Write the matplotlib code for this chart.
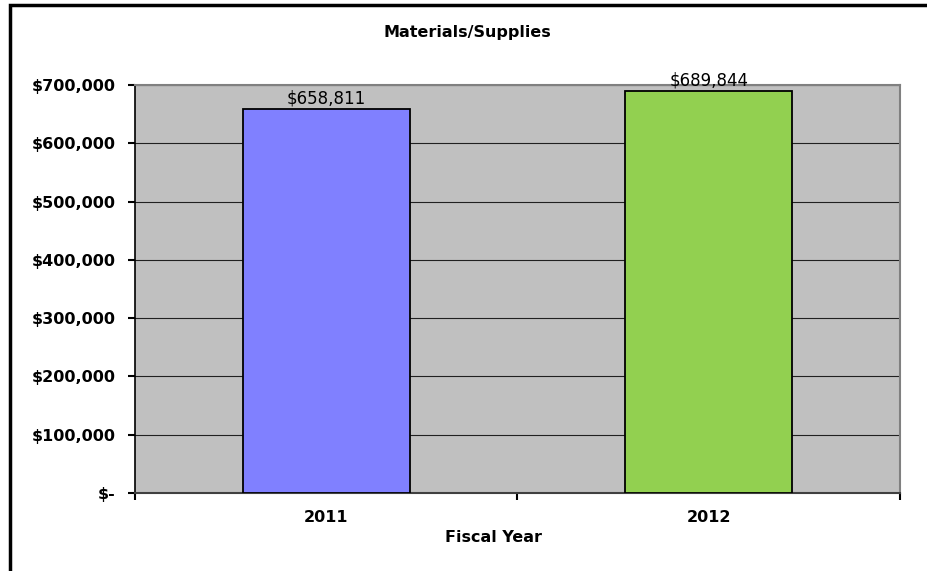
import numpy as np
import matplotlib
matplotlib.use("Agg")
import matplotlib.pyplot as plt
from matplotlib.patches import Rectangle
from matplotlib.ticker import FuncFormatter

years = ["2011", "2012"]
amounts = [658811, 689844]
bar_colors = ["#8080FF", "#92D050"]
y_ticks = [0, 100000, 200000, 300000, 400000, 500000, 600000, 700000]

plt.rcParams["font.family"] = ["DejaVu Sans"]

fig = plt.figure(figsize=(9.28, 5.71), dpi=100)
fig.patch.set_facecolor("white")

# outer frame around the whole chart
fig.add_artist(Rectangle((10 / 928, -0.01), 1.0, 1 - 5 / 571 + 0.01,
                         transform=fig.transFigure, fill=False,
                         edgecolor="black", linewidth=2.5))

ax = fig.add_axes([135 / 928, 1 - 493 / 571, (900 - 135) / 928, (493 - 85) / 571])
ax.set_facecolor("#C0C0C0")

x = np.arange(len(years))
ax.bar(x, amounts, width=0.437, color=bar_colors, edgecolor="black",
       linewidth=1.3, zorder=3)

for xi, val in zip(x, amounts):
    ax.text(xi, val + 2500, f"${val:,.0f}", ha="center", va="bottom",
            fontsize=12, zorder=4)

ax.set_xlim(-0.5, len(years) - 0.5)
ax.set_ylim(0, 700000)
ax.set_yticks(y_ticks)
ax.yaxis.set_major_formatter(FuncFormatter(lambda v, _: "$-" if v == 0 else f"${v:,.0f}"))
ax.grid(axis="y", color="#202020", linewidth=0.8, zorder=1)
ax.set_axisbelow(True)

# category labels sit between the boundary ticks
ax.set_xticks([-0.5, 0.5, 1.5])
ax.set_xticklabels([])
ax.set_xticks(x, minor=True)
ax.set_xticklabels(years, minor=True, fontsize=11.5, fontweight="bold")
ax.tick_params(axis="x", which="minor", length=0, pad=12)
ax.tick_params(axis="x", which="major", length=5, width=1.5, direction="out")
ax.tick_params(axis="y", length=5, width=1.5, direction="out", labelsize=11.5, pad=9)
for lbl in ax.get_yticklabels():
    lbl.set_fontweight("bold")

ax.spines["left"].set_color("black")
ax.spines["left"].set_linewidth(1.2)
ax.spines["bottom"].set_color("#404040")
ax.spines["bottom"].set_linewidth(1.5)
ax.spines["top"].set_color("#808080")
ax.spines["right"].set_color("#808080")
ax.spines["top"].set_linewidth(1.5)
ax.spines["right"].set_linewidth(1.5)

fig.text(467 / 928, 1 - 33 / 571, "Materials/Supplies", ha="center", va="center",
         fontsize=11.5, fontweight="bold")
fig.text(494 / 928, 1 - 537 / 571, "Fiscal Year", ha="center", va="center",
         fontsize=11.5, fontweight="bold")

fig.savefig("out.png", dpi=100)
